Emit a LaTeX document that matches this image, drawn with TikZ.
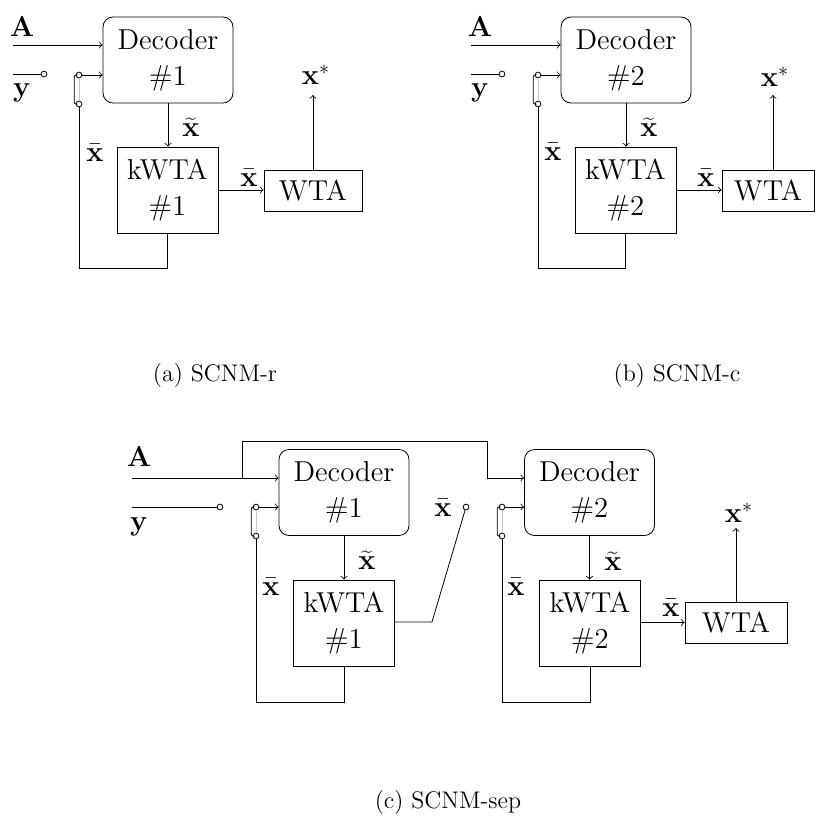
\documentclass[tikz,border=0pt]{standalone}
\begin{document}
\begin{tikzpicture}[x=0.5pt,y=-0.5pt,
  decbox/.style={draw, rounded corners=5pt, minimum width=65pt, minimum height=43pt, align=center, font=\Large, inner sep=0pt},
  kbox/.style={draw, minimum width=50.5pt, minimum height=43pt, align=center, font=\Large, inner sep=0pt},
  wbox/.style={draw, minimum width=49pt, minimum height=20.5pt, font=\Large, inner sep=0pt},
  lbl/.style={font=\Large, inner sep=0pt},
  term/.style={circle, draw, fill=white, inner sep=0pt, minimum size=2.9pt},
  captxt/.style={font=\large, inner sep=0pt},
  sw/.style={rounded corners=1pt},
  swg/.style={gray!45},
  >=to]
\useasboundingbox (0,0) rectangle (815,820);

% ---------------- (a) ----------------
\node[decbox] (deca) at (168,60) {Decoder\\\#1};
\node[kbox] (kwa) at (167.5,190) {kWTA\\\#1};
\node[wbox] (wta) at (313,190.5) {WTA};
\coordinate (aina) at (13,45);
\node[lbl] (Aa) at (22,27) {$\mathbf{A}$};
\coordinate (yina) at (13,74);
\node[term] (yca) at (44,74) {};
\node[lbl] (ya) at (22,93) {$\mathbf{y}$};
\node[term] (sta) at (79,75) {};
\node[term] (sba) at (79,104) {};
\coordinate (fa) at (79,268);
\coordinate (xsa) at (314,95);
\draw[->] (aina) -- (aina -| deca.west);
\draw (yina) -- (yca);
\draw[swg] (sta.south) -- (sba.north);
\draw[sw] (sta.west) -- ++(-1.5,0) |- (sba.west);
\draw[->] (sta) -- (sta -| deca.west);
\draw (sba) -- (fa) -| (kwa.south);
\draw[->] (deca.south) -- (deca.south |- kwa.north);
\draw[->] (kwa.east) -- (kwa.east -| wta.west);
\draw[->] (wta.north) -- (wta.north |- xsa);
\node[lbl] (xta) at (191,127) {$\widetilde{\mathbf{x}}$};
\node[lbl] (xba1) at (95,153) {$\bar{\mathbf{x}}$};
\node[lbl] (xba2) at (249,178) {$\bar{\mathbf{x}}$};
\node[lbl] (xsla) at (316,75) {$\mathbf{x}^{*}$};
\node[captxt] (capa) at (215,376) {(a) SCNM-r};

% ---------------- (b) ----------------
\node[decbox] (decb) at (626,60) {Decoder\\\#2};
\node[kbox] (kwb) at (625.5,190) {kWTA\\\#2};
\node[wbox, minimum width=46pt] (wtb) at (768,190.5) {WTA};
\coordinate (ainb) at (471,45);
\node[lbl] (Ab) at (480,27) {$\mathbf{A}$};
\coordinate (yinb) at (471,74);
\node[term] (ycb) at (502,74) {};
\node[lbl] (yb) at (480,93) {$\mathbf{y}$};
\node[term] (stb) at (538,75) {};
\node[term] (sbb) at (538,104) {};
\coordinate (fb) at (538,268);
\coordinate (xsb) at (773,95);
\draw[->] (ainb) -- (ainb -| decb.west);
\draw (yinb) -- (ycb);
\draw[swg] (stb.south) -- (sbb.north);
\draw[sw] (stb.west) -- ++(-1.5,0) |- (sbb.west);
\draw[->] (stb) -- (stb -| decb.west);
\draw (sbb) -- (fb) -| (kwb.south);
\draw[->] (decb.south) -- (decb.south |- kwb.north);
\draw[->] (kwb.east) -- (kwb.east -| wtb.west);
\draw[->] (wtb.north -| xsb) -- (xsb);
\node[lbl] (xtb) at (649,127) {$\widetilde{\mathbf{x}}$};
\node[lbl] (xbb1) at (553,152) {$\bar{\mathbf{x}}$};
\node[lbl] (xbb2) at (706,178) {$\bar{\mathbf{x}}$};
\node[lbl] (xslb) at (775,77) {$\mathbf{x}^{*}$};
\node[captxt] (capb) at (677,376) {(b) SCNM-c};

% ---------------- (c) ----------------
\node[decbox] (dc1) at (344,492.5) {Decoder\\\#1};
\node[kbox] (kc1) at (344,623) {kWTA\\\#1};
\node[decbox] (dc2) at (589.5,492.5) {Decoder\\\#2};
\node[kbox] (kc2) at (590,623) {kWTA\\\#2};
\node[wbox, minimum width=51pt] (wc) at (736,622.5) {WTA};
\coordinate (ainc) at (132,478);
\coordinate (brc) at (242,478);
\coordinate (tcc) at (487,441);
\node[lbl] (Ac) at (139,457) {$\mathbf{A}$};
\coordinate (yinc) at (132,507);
\node[term] (ycc) at (220,507) {};
\node[lbl] (yc) at (139,527) {$\mathbf{y}$};
\node[term] (st1) at (256,507) {};
\node[term] (sb1) at (256,536) {};
\coordinate (f1) at (256,702);
\node[term] (oc1) at (466,507) {};
\coordinate (kk1) at (432,622);
\node[term] (st2) at (502,507) {};
\node[term] (sb2) at (502,536) {};
\coordinate (f2) at (502,702);
\coordinate (xsc) at (736,528);
\draw[->] (ainc) -- (ainc -| dc1.west);
\draw[->] (brc) |- (tcc) |- (ainc -| dc2.west);
\draw (yinc) -- (ycc);
\draw[swg] (st1.south) -- (sb1.north);
\draw[sw] (st1.west) -- ++(-1.5,0) |- (sb1.west);
\draw[->] (st1) -- (st1 -| dc1.west);
\draw (sb1) -- (f1) -| (kc1.south);
\draw[->] (dc1.south) -- (dc1.south |- kc1.north);
\draw (kc1.east |- kk1) -- (kk1) -- (oc1);
\draw[swg] (st2.south) -- (sb2.north);
\draw[sw] (st2.west) -- ++(-1.5,0) |- (sb2.west);
\draw[->] (st2) -- (st2 -| dc2.west);
\draw (sb2) -- (f2) -| (kc2.south);
\draw[->] (dc2.south) -- (dc2.south |- kc2.north);
\draw[->] (kc2.east |- wc) -- (wc.west);
\draw[->] (wc.north) -- (xsc);
\node[lbl] (xtc1) at (367,560) {$\widetilde{\mathbf{x}}$};
\node[lbl] (xbc1) at (271,587) {$\bar{\mathbf{x}}$};
\node[lbl] (xbo1) at (443,508) {$\bar{\mathbf{x}}$};
\node[lbl] (xtc2) at (613,561) {$\widetilde{\mathbf{x}}$};
\node[lbl] (xbc2) at (516,587) {$\bar{\mathbf{x}}$};
\node[lbl] (xbc3) at (671,608) {$\bar{\mathbf{x}}$};
\node[lbl] (xslc) at (739,513) {$\mathbf{x}^{*}$};
\node[captxt] (capc) at (448,803) {(c) SCNM-sep};
\end{tikzpicture}
\end{document}
